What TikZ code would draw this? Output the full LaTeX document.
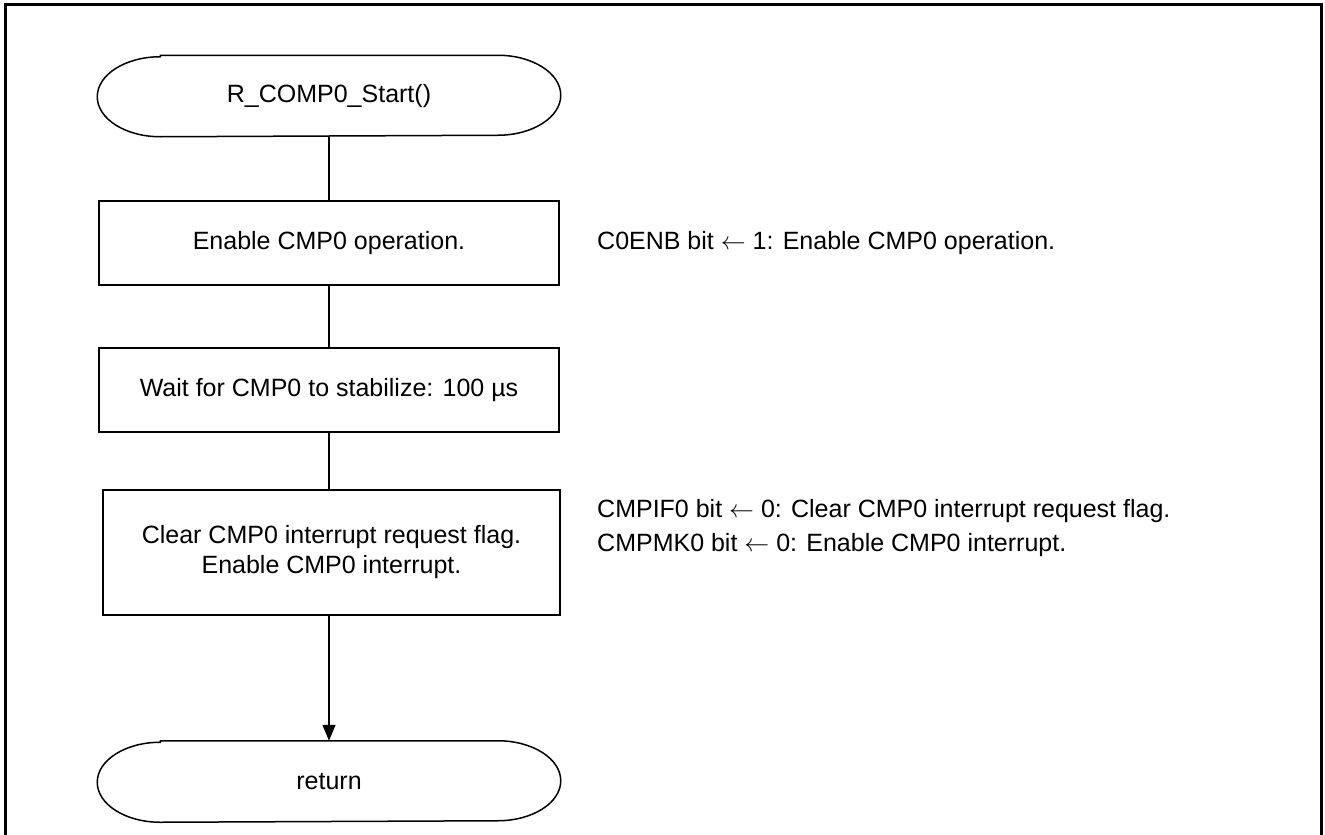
\documentclass[tikz,border=0pt]{standalone}
\usepackage{fontspec}
\setmainfont{Liberation Sans}
\usetikzlibrary{arrows.meta}
\newcommand{\assignarrow}{\ $\leftarrow$\ }
\begin{document}
\begin{tikzpicture}[x=1pt,y=-1pt,
  every node/.style={font=\fontsize{25}{30}\selectfont},
  shape line/.style={line width=1.5pt},
  terminal/.style={minimum width=462pt,minimum height=80pt,inner sep=0pt,
    append after command={
      ([xshift=63pt]\tikzlastnode.north west) -- ([xshift=-63pt]\tikzlastnode.north east)
      arc[start angle=90,end angle=-90,x radius=63pt,y radius=40pt]
      -- ([xshift=63pt]\tikzlastnode.south west)
      arc[start angle=270,end angle=90,x radius=63pt,y radius=40pt] -- cycle}},
  procbox/.style={draw,shape line,minimum width=460pt,minimum height=84pt,inner sep=0pt,align=center},
  note/.style={anchor=west,inner sep=0pt},
  link/.style={shape line}]
\useasboundingbox (0,0) rectangle (1325,835);
\draw[line width=3pt] (5,835) -- (5,4) -- (1321,4) -- (1321,835);

\draw[shape line] (329,96) node[terminal] (start) {R\_COMP0\_Start()};
\node[procbox] (b1) at (329,243) {Enable CMP0 operation.};
\node[procbox] (b2) at (329,390) {Wait for CMP0 to stabilize: 100 µs};
\node[procbox,minimum width=457pt,minimum height=125pt] (b3) at (331.5,552.5) {Clear CMP0 interrupt request flag.\\Enable CMP0 interrupt.};
\draw[shape line] (329,781.5) node[terminal] (ret) {return};

\draw[link] (start.south) -- (start.south |- b1.north);
\draw[link] (b1.south) -- (b1.south |- b2.north);
\draw[link] (b2.south) -- (b2.south |- b3.north);
\coordinate (b3out) at (b2.south |- b3.south);
\draw[link,-{Triangle[length=16pt,width=13pt]}] (b3out) -- (b3out |- ret.north);

\node[note] (n1) at (597,243) {C0ENB bit\assignarrow 1: Enable CMP0 operation.};
\node[note] (n2) at (597,511) {CMPIF0 bit\assignarrow 0: Clear CMP0 interrupt request flag.};
\node[note] (n3) at (597,545) {CMPMK0 bit\assignarrow 0: Enable CMP0 interrupt.};
\end{tikzpicture}
\end{document}
